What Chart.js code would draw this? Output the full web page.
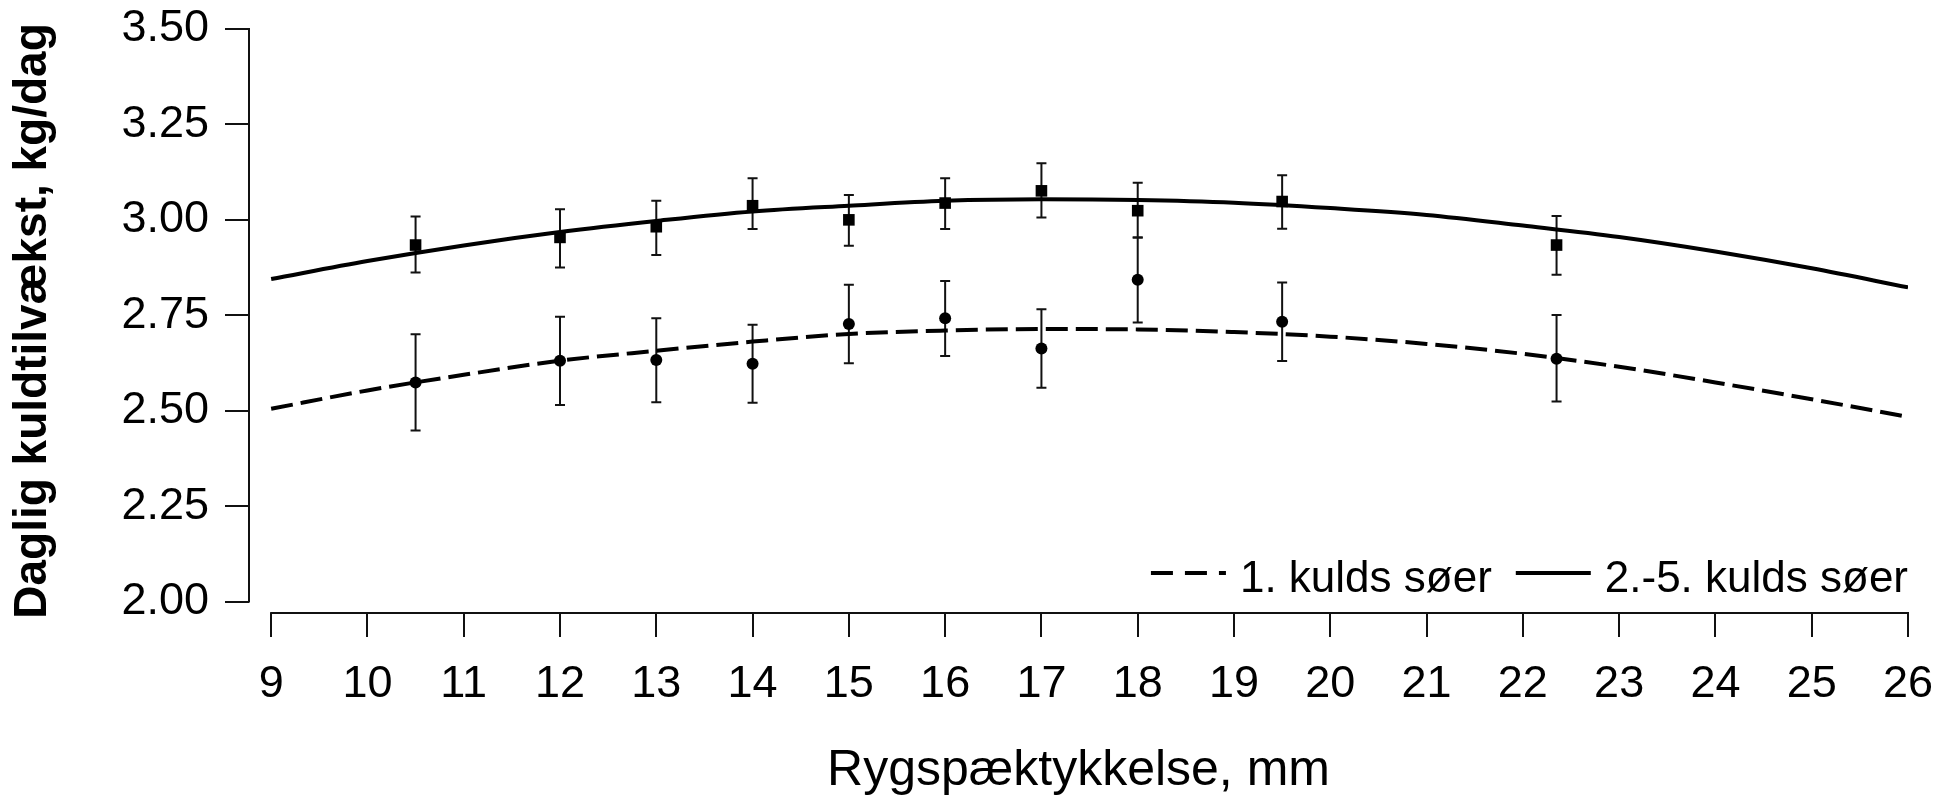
<!DOCTYPE html>
<html>
<head>
<meta charset="utf-8">
<title>Daglig kuldtilvækst</title>
<script src="https://cdn.jsdelivr.net/npm/chart.js@4.4.0/dist/chart.umd.min.js"></script>
<style>
    html, body { margin: 0; padding: 0; background: #fff; }
    #wrap { width: 1938px; height: 801px; }
</style>
</head>
<body>
<div id="wrap"><canvas id="growthChart" width="1938" height="801"></canvas></div>
<script>
// fitted curves at whole mm
const curveX = [9, 10, 11, 12, 13, 14, 15, 16, 17, 18, 19, 20, 21, 22, 23, 24, 25, 26];
const curveFirst = [2.505, 2.553, 2.594, 2.631, 2.657, 2.681, 2.701, 2.710, 2.714, 2.713, 2.706, 2.694, 2.675, 2.649, 2.615, 2.574, 2.530, 2.484];
const curveLater = [2.845, 2.892, 2.933, 2.968, 2.997, 3.022, 3.037, 3.050, 3.054, 3.052, 3.045, 3.031, 3.013, 2.985, 2.955, 2.917, 2.873, 2.823];

// group means with error bars
const pointX = [10.5, 12, 13, 14, 15, 16, 17, 18, 19.5, 22.35];
const firstMean = [2.574, 2.631, 2.633, 2.623, 2.727, 2.742, 2.663, 2.843, 2.733, 2.636];
const firstHigh = [2.700, 2.746, 2.742, 2.725, 2.830, 2.840, 2.766, 2.954, 2.836, 2.751];
const firstLow = [2.448, 2.515, 2.522, 2.521, 2.624, 2.643, 2.560, 2.731, 2.630, 2.524];
const laterMean = [2.934, 2.954, 2.982, 3.037, 3.000, 3.044, 3.076, 3.024, 3.048, 2.934];
const laterHigh = [3.009, 3.028, 3.050, 3.109, 3.065, 3.109, 3.148, 3.097, 3.117, 3.010];
const laterLow = [2.862, 2.875, 2.908, 2.976, 2.932, 2.976, 3.006, 2.954, 2.977, 2.856];

const xTicks = [9, 10, 11, 12, 13, 14, 15, 16, 17, 18, 19, 20, 21, 22, 23, 24, 25, 26];
const yTicks = [2.00, 2.25, 2.50, 2.75, 3.00, 3.25, 3.50];
const legendLabels = ['1. kulds søer', '2.-5. kulds søer'];

const fontFamily = '"Liberation Sans", Arial, Helvetica, sans-serif';
const ink = '#111';

function toPoints(xs, ys) {
    return xs.map((x, i) => ({ x: x, y: ys[i] }));
}

// error bars under the markers
const errorBars = {
    id: 'errorBars',
    beforeDatasetsDraw(chart) {
        const { ctx, scales: { y } } = chart;
        ctx.save();
        ctx.strokeStyle = ink;
        ctx.lineWidth = 2;
        chart.data.datasets.forEach((ds, i) => {
            if (!ds.errHigh) return;
            chart.getDatasetMeta(i).data.forEach((pt, j) => {
                const top = y.getPixelForValue(ds.errHigh[j]);
                const bottom = y.getPixelForValue(ds.errLow[j]);
                ctx.beginPath();
                ctx.moveTo(pt.x, top);
                ctx.lineTo(pt.x, bottom);
                ctx.moveTo(pt.x - 5, top);
                ctx.lineTo(pt.x + 5, top);
                ctx.moveTo(pt.x - 5, bottom);
                ctx.lineTo(pt.x + 5, bottom);
                ctx.stroke();
            });
        });
        ctx.restore();
    }
};

// detached axis lines, running only over the tick range
const axisLines = {
    id: 'axisLines',
    afterDraw(chart) {
        const { ctx, chartArea, scales: { x, y } } = chart;
        ctx.save();
        ctx.strokeStyle = ink;
        ctx.lineWidth = 2;
        ctx.beginPath();
        ctx.moveTo(x.getPixelForValue(xTicks[0]) - 1, chartArea.bottom);
        ctx.lineTo(x.getPixelForValue(xTicks[xTicks.length - 1]) + 1, chartArea.bottom);
        ctx.moveTo(chartArea.left, y.getPixelForValue(yTicks[0]) + 1);
        ctx.lineTo(chartArea.left, y.getPixelForValue(yTicks[yTicks.length - 1]) - 1);
        ctx.stroke();
        ctx.restore();
    }
};

// line key in the lower right corner of the plot
const lineKey = {
    id: 'lineKey',
    afterDraw(chart) {
        const { ctx, chartArea } = chart;
        const curves = chart.data.datasets.slice(0, 2);
        const baseY = chartArea.bottom - 21;
        const lineY = baseY - 19;
        let right = chartArea.right;
        ctx.save();
        ctx.font = '44px ' + fontFamily;
        ctx.fillStyle = '#000';
        ctx.textBaseline = 'alphabetic';
        for (let i = curves.length - 1; i >= 0; i--) {
            const w = ctx.measureText(curves[i].label).width;
            ctx.fillText(curves[i].label, right - w, baseY);
            const end = right - w - 14;
            ctx.beginPath();
            ctx.strokeStyle = '#000';
            ctx.lineWidth = 4;
            ctx.setLineDash(curves[i].borderDash ? [22, 12] : []);
            ctx.moveTo(end - 75, lineY);
            ctx.lineTo(end, lineY);
            ctx.stroke();
            right = end - 75 - 24;
        }
        ctx.restore();
    }
};

const ctx = document.getElementById('growthChart').getContext('2d');

const growthChart = new Chart(ctx, {
    type: 'line',
    data: {
        datasets: [{
            label: legendLabels[0],
            data: toPoints(curveX, curveFirst),
            borderColor: '#000',
            borderWidth: 4,
            borderDash: [22, 8],
            pointRadius: 0,
            tension: 0.4,
            cubicInterpolationMode: 'monotone',
            fill: false
        }, {
            label: legendLabels[1],
            data: toPoints(curveX, curveLater),
            borderColor: '#000',
            borderWidth: 4,
            pointRadius: 0,
            tension: 0.4,
            cubicInterpolationMode: 'monotone',
            fill: false
        }, {
            type: 'scatter',
            label: 'first',
            data: toPoints(pointX, firstMean),
            errHigh: firstHigh,
            errLow: firstLow,
            pointStyle: 'circle',
            pointRadius: 6,
            backgroundColor: '#000',
            borderWidth: 0,
            showLine: false
        }, {
            type: 'scatter',
            label: 'later',
            data: toPoints(pointX, laterMean),
            errHigh: laterHigh,
            errLow: laterLow,
            pointStyle: 'rect',
            pointRadius: 8.2,
            backgroundColor: '#000',
            borderWidth: 0,
            showLine: false
        }]
    },
    options: {
        responsive: false,
        animation: false,
        devicePixelRatio: 1,
        layout: { padding: { top: 29, right: 30, left: 0, bottom: 0 } },
        plugins: {
            legend: { display: false },
            tooltip: { enabled: false }
        },
        scales: {
            x: {
                type: 'linear',
                min: 8.77,
                max: 26,
                afterBuildTicks: scale => { scale.ticks = xTicks.map(v => ({ value: v })); },
                afterFit: scale => {
                    scale.height = 188;
                    scale.paddingLeft = 0;
                    scale.paddingRight = 0;
                },
                border: { display: false },
                grid: { drawOnChartArea: false, drawTicks: true, tickLength: 24, color: ink, lineWidth: 2 },
                ticks: {
                    color: '#000',
                    padding: 21,
                    maxRotation: 0,
                    autoSkip: false,
                    font: { family: fontFamily, size: 45 }
                },
                title: {
                    display: true,
                    text: 'Rygspæktykkelse, mm',
                    color: '#000',
                    padding: 0,
                    font: { family: fontFamily, size: 50 }
                }
            },
            y: {
                type: 'linear',
                min: 1.97,
                max: 3.5,
                afterBuildTicks: scale => { scale.ticks = yTicks.map(v => ({ value: v })); },
                afterFit: scale => {
                    scale.width = 249;
                    scale.paddingTop = 0;
                    scale.paddingBottom = 0;
                },
                border: { display: false },
                grid: { drawOnChartArea: false, drawTicks: true, tickLength: 24, color: ink, lineWidth: 2 },
                ticks: {
                    color: '#000',
                    padding: 16,
                    font: { family: fontFamily, size: 45 },
                    callback: v => v.toFixed(2)
                },
                title: {
                    display: true,
                    text: 'Daglig kuldtilvækst, kg/dag',
                    color: '#000',
                    padding: { top: 6, bottom: 0 },
                    font: { family: fontFamily, size: 46, weight: 'bold' }
                }
            }
        }
    },
    plugins: [errorBars, axisLines, lineKey]
});
</script>
</body>
</html>
